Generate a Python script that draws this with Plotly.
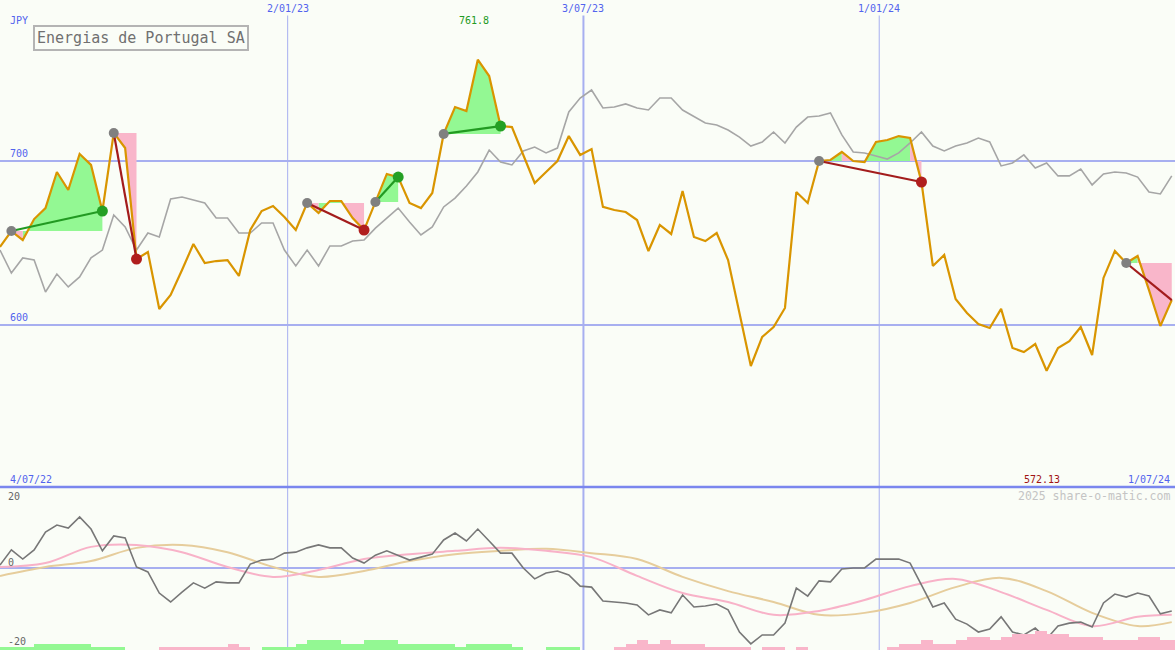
import pandas as pd
import plotly.graph_objects as go

# ---------------- data ----------------
start_date = "2022-07-09"
n_weeks = 104
dates = pd.date_range(start_date, periods=n_weeks, freq="7D")

price = [647.6, 657.3, 651.8, 664.6, 671.3, 693.3, 682.3, 704.3, 697.6, 669.5,
         717.1, 707.9, 640.2, 644.5, 609.8, 618.3, 633.5, 649.4, 637.8, 639.0,
         639.6, 629.9, 657.9, 669.5, 672.6, 665.9, 657.9, 674.4, 668.3, 675.6,
         675.6, 665.2, 657.9, 675.0, 692.1, 690.2, 674.4, 671.3, 680.5, 716.5,
         732.9, 730.5, 761.8, 751.8, 721.3, 720.7, 703.7, 686.6, 693.3, 700.0,
         715.2, 703.7, 707.3, 672.0, 670.1, 668.9, 664.0, 645.1, 661.0, 655.5,
         681.7, 653.7, 651.2, 656.1, 639.6, 607.3, 575.0, 592.7, 598.8, 610.4,
         681.1, 674.4, 700.0, 700.6, 705.5, 700.0, 699.4, 711.6, 712.8, 715.2,
         714.0, 687.2, 636.0, 642.7, 615.9, 607.3, 600.6, 598.2, 609.8, 586.0,
         583.5, 588.4, 572.13, 586.0, 590.2, 598.8, 581.7, 628.7, 645.1, 637.8,
         642.1, 621.3, 599.4, 615.2]

compare = [645.7, 631.7, 640.9, 639.6, 620.1, 631.1, 623.2, 629.3, 640.9, 645.7,
           667.1, 659.8, 645.7, 656.1, 653.7, 676.8, 678.0, 676.2, 674.4, 665.2,
           665.2, 656.1, 656.1, 662.2, 662.2, 645.7, 636.0, 645.7, 636.0, 648.2,
           648.2, 651.2, 651.8, 659.1, 665.2, 671.3, 662.8, 654.9, 659.8, 672.0,
           677.4, 684.8, 693.3, 706.7, 699.4, 697.6, 706.1, 708.5, 704.9, 707.9,
           729.9, 738.4, 743.3, 732.3, 732.9, 734.8, 732.3, 731.1, 738.4, 738.4,
           731.1, 727.4, 723.2, 722.0, 718.9, 714.6, 709.1, 711.6, 717.7, 711.0,
           720.7, 726.8, 727.4, 729.3, 715.9, 705.5, 704.9, 703.0, 701.2, 704.9,
           711.0, 717.7, 709.1, 706.1, 709.1, 711.0, 714.0, 711.6, 697.0, 698.8,
           703.7, 695.7, 698.8, 690.9, 690.9, 695.1, 685.4, 692.1, 693.3, 692.7,
           690.2, 681.1, 679.9, 690.9]

# trades: entry index, exit index, open flag
trade_entry = [1, 10, 27, 33, 39, 72, 99]
trade_exit = [9, 12, 32, 35, 44, 81, 103]
trade_open = [False, False, False, False, False, False, True]

# lower panel oscillator
osc = [0.9, 5.5, 2.7, 5.5, 10.9, 13.0, 12.1, 15.5, 11.8, 5.2,
       9.7, 9.1, 0.3, -1.2, -7.6, -10.3, -7.3, -4.5, -6.1, -4.2,
       -4.5, -4.5, 1.2, 2.4, 2.7, 4.5, 4.8, 6.1, 7.0, 6.1,
       6.1, 3.0, 1.5, 3.9, 5.2, 3.9, 2.4, 3.3, 4.2, 8.5,
       10.6, 8.2, 11.8, 8.2, 4.5, 4.5, 0.0, -3.3, -1.5, -0.9,
       -2.1, -5.5, -5.8, -10.0, -10.3, -10.6, -11.2, -14.2, -12.7, -13.6,
       -8.2, -11.8, -11.5, -10.9, -12.7, -19.4, -23.0, -20.3, -20.3, -16.7,
       -6.1, -8.5, -3.9, -4.2, -0.3, 0.0, 0.0, 2.7, 2.7, 2.7,
       1.5, -5.2, -11.8, -10.6, -15.5, -17.0, -19.4, -18.5, -14.8, -19.4,
       -20.3, -18.2, -21.5, -17.6, -16.7, -16.4, -17.9, -10.6, -7.9, -8.8,
       -7.6, -8.5, -13.9, -13.0]

smooth_idx = [0, 4, 8, 12, 16, 20, 24, 28, 32, 36, 40, 44, 48, 52, 56, 60,
              64, 68, 72, 76, 80, 84, 88, 92, 96, 100, 103]
pink_avg = [0.3, 1.5, 6.4, 7.0, 4.8, 0.3, -2.7, -0.6, 2.7, 4.2, 5.2, 6.1, 5.2,
            3.3, -2.4, -7.6, -10.3, -14.2, -13.0, -9.7, -5.5, -3.3, -7.3,
            -12.7, -17.6, -14.8, -14.2]
tan_avg = [-2.4, 0.3, 2.1, 6.1, 7.0, 4.8, 0.3, -2.7, -0.9, 2.1, 4.2, 5.2, 5.8,
           4.5, 2.7, -2.7, -7.0, -10.3, -14.2, -13.6, -10.6, -5.8, -3.0, -7.0,
           -13.6, -17.6, -16.4]

hist = [1, 1, 1, 2, 2, 2, 2, 2, 1, 1,
        1, 0, 0, 0, -1, -1, -1, -1, -1, -1,
        -2, -1, 0, 1, 1, 1, 2, 3, 3, 3,
        2, 2, 3, 3, 3, 2, 2, 2, 2, 2,
        1, 2, 2, 2, 2, 1, 0, 0, 1, 1,
        1, 0, 0, 0, -1, -2, -3, -2, -3, -2,
        -2, -2, -1, -1, -1, -1, 0, -1, -1, 0,
        -1, 0, 0, 0, 0, 0, 0, 0, -1, -2,
        -2, -3, -2, -2, -3, -4, -4, -3, -4, -5,
        -5, -6, -5, -5, -4, -4, -4, -3, -3, -3,
        -4, -4, -3, -3]

grid_dates = ["2023-01-02", "2023-07-03", "2024-01-01"]
grid_labels = ["2/01/23", "3/07/23", "1/01/24"]
grid_widths = [1, 2, 1]
price_levels = [700, 600]
title = "Energias de Portugal SA"
currency = "JPY"
first_label = "4/07/22"
last_label = "1/07/24"
credit = "2025 share-o-matic.com"

# ---------------- style ----------------
BG = "#fafdf7"
BLUE = "#5263ee"
GRID = "#a7aff0"
ORANGE = "#d99500"
GREEN_FILL = "#93f893"
PINK_FILL = "#f9b6ca"
FONT = "DejaVu Sans Mono"
W, H = 1175, 650
SPLIT = 487  # pixel row of panel separator

x_range = [start_date, "2024-07-01"]
main_range = [700 - (SPLIT - 161) / 1.64, 700 + 161 / 1.64]
low_range = [-(H - 568) / 3.3, (568 - SPLIT) / 3.3]

ds = [d.strftime("%Y-%m-%d") for d in dates]

fig = go.Figure()

# ---- histogram (lower panel) ----
fig.add_trace(go.Bar(
    x=ds, y=[abs(h) for h in hist], xaxis="x2", yaxis="y3",
    marker=dict(color=[GREEN_FILL if h > 0 else PINK_FILL for h in hist],
                line=dict(width=0)),
    width=[7 * 86400000] * n_weeks, offset=0, hoverinfo="skip"))

# ---- trade fills (main panel) ----
gx, gy, px, py = [], [], [], []
for a, b in zip(trade_entry, trade_exit):
    L = price[a]
    for i in range(a, b):
        xs = [ds[i], ds[i], ds[i + 1], ds[i + 1], ds[i], None]
        ys = [L, price[i], price[i + 1], L, L, None]
        if price[i + 1] > L:
            gx += xs; gy += ys
        else:
            px += xs; py += ys
fig.add_trace(go.Scatter(x=gx, y=gy, mode="lines", fill="toself",
                         fillcolor=GREEN_FILL, line=dict(width=0),
                         hoverinfo="skip"))
fig.add_trace(go.Scatter(x=px, y=py, mode="lines", fill="toself",
                         fillcolor=PINK_FILL, line=dict(width=0),
                         hoverinfo="skip"))

# ---- comparison and price lines ----
fig.add_trace(go.Scatter(x=ds, y=compare, mode="lines",
                         line=dict(color="#a6a6a6", width=1.6)))
fig.add_trace(go.Scatter(x=ds, y=price, mode="lines",
                         line=dict(color=ORANGE, width=2.2)))

# ---- trade lines and markers ----
for a, b, op in zip(trade_entry, trade_exit, trade_open):
    win = price[b] > price[a]
    lc = "#229a22" if win else "#a31c1c"
    fig.add_trace(go.Scatter(x=[ds[a], ds[b]], y=[price[a], price[b]],
                             mode="lines", line=dict(color=lc, width=2.2)))
    fig.add_trace(go.Scatter(x=[ds[a]], y=[price[a]], mode="markers",
                             marker=dict(color="#808080", size=10)))
    if not op:
        fig.add_trace(go.Scatter(x=[ds[b]], y=[price[b]], mode="markers",
                                 marker=dict(color="#24a024" if win else "#b01e1e",
                                             size=11)))

# ---- lower panel lines ----
sd = [ds[i] for i in smooth_idx]
fig.add_trace(go.Scatter(x=sd, y=tan_avg, mode="lines", xaxis="x2", yaxis="y2",
                         line=dict(color="#e6cd9c", width=2, shape="spline")))
fig.add_trace(go.Scatter(x=sd, y=pink_avg, mode="lines", xaxis="x2", yaxis="y2",
                         line=dict(color="#f8b2c8", width=2, shape="spline")))
fig.add_trace(go.Scatter(x=ds, y=osc, mode="lines", xaxis="x2", yaxis="y2",
                         line=dict(color="#777777", width=1.6)))

# ---- shapes ----
split_y = 1 - SPLIT / H
shapes = []
for d, w in zip(grid_dates, grid_widths):
    shapes.append(dict(type="line", xref="x", yref="paper", x0=d, x1=d,
                       y0=0, y1=1 - 14 / H, line=dict(color=GRID, width=w),
                       layer="below"))
for lv in price_levels:
    shapes.append(dict(type="line", xref="paper", yref="y", x0=0, x1=1,
                       y0=lv, y1=lv, line=dict(color=GRID, width=2),
                       layer="below"))
shapes.append(dict(type="line", xref="paper", yref="y2", x0=0, x1=1,
                   y0=0, y1=0, line=dict(color=GRID, width=2), layer="below"))
shapes.append(dict(type="line", xref="paper", yref="paper", x0=0, x1=1,
                   y0=split_y, y1=split_y, line=dict(color="#7a86ee", width=2.5)))


def py_(pix):
    return 1 - pix / H


small = dict(family=FONT, size=10, color=BLUE)
ann = []
ann.append(dict(text=currency, x=8 / W, y=py_(20), xanchor="left",
                yanchor="middle", font=small))
for lv in price_levels:
    ann.append(dict(text=str(lv), x=8 / W, xanchor="left", yref="y", y=lv,
                    yanchor="bottom", yshift=0, font=small, xref="paper"))
for d, lab in zip(grid_dates, grid_labels):
    ann.append(dict(text=lab, xref="x", x=d, y=py_(8), xanchor="center",
                    yanchor="middle", font=small, bgcolor=BG))
imax = price.index(max(price))
imin = price.index(min(price))
ann.append(dict(text=f"{max(price):g}", xref="x", x=ds[imax], xshift=-4,
                y=py_(20), xanchor="center", yanchor="middle",
                font=dict(family=FONT, size=10, color="#229a22")))
ann.append(dict(text=f"{min(price):g}", xref="x", x=ds[imin], xshift=-5,
                y=py_(479), xanchor="center", yanchor="middle",
                font=dict(family=FONT, size=10, color="#a01414")))
ann.append(dict(text=first_label, x=8 / W, y=py_(479), xanchor="left",
                yanchor="middle", font=small))
ann.append(dict(text=last_label, x=1172 / W, y=py_(479), xanchor="right",
                yanchor="middle", font=small))
ann.append(dict(text=credit, x=1172 / W, y=py_(496), xanchor="right",
                yanchor="middle",
                font=dict(family=FONT, size=11.5, color="#c4c4c4")))
lowfont = dict(family=FONT, size=10, color="#666666")
for txt, pix in [("20", 496), ("0", 562), ("-20", 641)]:
    ann.append(dict(text=txt, x=6 / W, y=py_(pix), xanchor="left",
                    yanchor="middle", font=lowfont))
ann.append(dict(text=title, x=33 / W, y=py_(25), xanchor="left", yanchor="top",
                font=dict(family=FONT, size=15, color="#707070"),
                bordercolor="#b4b4b4", borderwidth=2, borderpad=2, bgcolor=BG))
for a_ in ann:
    a_.setdefault("xref", "paper")
    a_.setdefault("yref", "paper")
    a_["showarrow"] = False

fig.update_layout(
    width=W, height=H, margin=dict(l=0, r=0, t=0, b=0),
    paper_bgcolor=BG, plot_bgcolor=BG, showlegend=False,
    bargap=0, shapes=shapes, annotations=ann, hovermode=False,
    xaxis=dict(type="date", range=x_range, visible=False, domain=[0, 1],
               anchor="y"),
    xaxis2=dict(type="date", range=x_range, visible=False, domain=[0, 1],
                anchor="y2", matches="x"),
    yaxis=dict(range=main_range, domain=[split_y, 1], visible=False),
    yaxis2=dict(range=low_range, domain=[0, split_y], visible=False,
                anchor="x2"),
    yaxis3=dict(range=[0, (H - SPLIT) / 3.2], overlaying="y2", visible=False,
                anchor="x2"),
)

fig.write_html(
    "out.html",
    config={"displayModeBar": False, "staticPlot": True},
    post_script="document.body.style.margin='0px';"
                "document.body.style.overflow='hidden';"
                "document.body.style.background='" + BG + "';",
)
